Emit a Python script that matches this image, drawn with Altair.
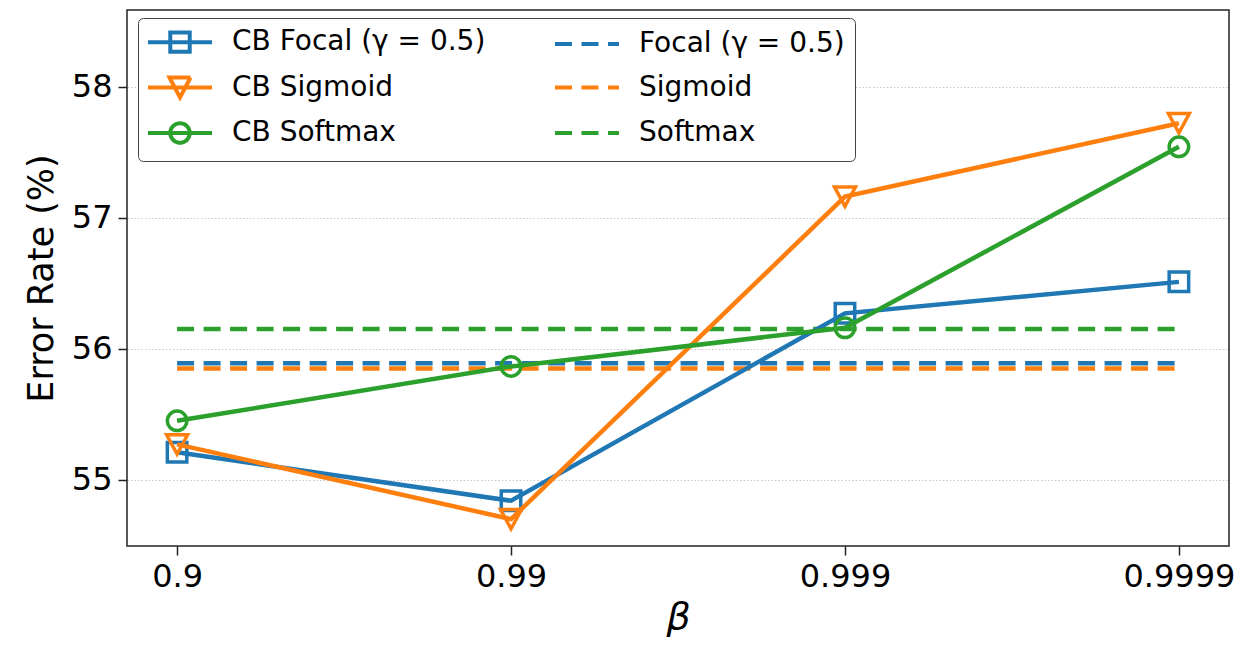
import altair as alt
import pandas as pd

# ---- data ----
betas = ["0.9", "0.99", "0.999", "0.9999"]
cb_names = ["CB Focal (γ = 0.5)", "CB Sigmoid", "CB Softmax"]
base_names = ["Focal (γ = 0.5)", "Sigmoid", "Softmax"]
cb_focal = [55.21, 54.84, 56.27, 56.51]
cb_sigmoid = [55.27, 54.70, 57.16, 57.72]
cb_softmax = [55.45, 55.865, 56.16, 57.54]
base_values = [55.89, 55.85, 56.15]
y_ticks = [55, 56, 57, 58]

cb_series = [cb_focal, cb_sigmoid, cb_softmax]

rows = []
for name, vals in zip(cb_names, cb_series):
    for b, v in zip(betas, vals):
        rows.append({"series": name, "beta": b, "value": v})
df_cb = pd.DataFrame(rows)

rows = []
for name, v in zip(base_names, base_values):
    for b in (betas[0], betas[-1]):
        rows.append({"series": name, "beta": b, "value": v})
df_base = pd.DataFrame(rows)

legend_order = cb_names + base_names
df_legend = pd.DataFrame({"series": legend_order, "beta": betas[0], "value": 56.0})

# ---- styles ----
colors = ["#1f77b4", "#ff7f0e", "#2ca02c"]
DASH = [17, 9.5]
LW = 4.5
FONT = "DejaVu Sans"

x_enc = alt.X("beta:O", sort=betas, scale=alt.Scale(type="point", padding=0.15),
              axis=alt.Axis(title="β", labelAngle=0, titleFontStyle="italic",
                            titleFontSize=38, titlePadding=6, labelPadding=6))
y_enc = alt.Y("value:Q", scale=alt.Scale(domain=[54.495, 58.584], zero=False, nice=False),
              axis=alt.Axis(title="Error Rate (%)", values=y_ticks, grid=True,
                            gridColor="#c8c8c8", gridDash=[1.5, 2], gridWidth=1,
                            titleFontSize=35, titlePadding=12, labelPadding=6))

layers = []
# dashed baselines
for name, col in zip(base_names, colors):
    layers.append(
        alt.Chart(df_base).transform_filter(alt.datum.series == name)
        .mark_line(color=col, strokeDash=DASH, strokeWidth=LW)
        .encode(x=x_enc, y=y_enc)
    )

marker_shapes = ["square", "M-1,-0.92H1L0,0.92Z", "circle"]
marker_sizes = [380, 441, 380]
for name, col, shp, sz in zip(cb_names, colors, marker_shapes, marker_sizes):
    base = alt.Chart(df_cb).transform_filter(alt.datum.series == name)
    layers.append(base.mark_line(color=col, strokeWidth=LW).encode(x=x_enc, y=y_enc))
    layers.append(
        base.mark_point(shape=shp, size=sz, filled=False, color=col, strokeWidth=3.5, opacity=1)
        .encode(x=x_enc, y=y_enc)
    )

# legend-only layer (no data drawn)
L = 2.667
S = 0.81
p_line = f"M-{L},0H{L}"
p_sq = p_line + f"M-{S},-{S}H{S}V{S}H-{S}Z"
p_tri = p_line + "M-0.875,-0.83H0.875L0,0.83Z"
p_circ = p_line + f"M{S},0A{S},{S},0,1,1,-{S},0A{S},{S},0,1,1,{S},0Z"

leg = alt.Legend(title=None, orient="none", legendX=11, legendY=8, columns=2,
                 columnPadding=60, rowPadding=9.5, labelFontSize=28, labelFont=FONT,
                 labelColor="black", labelOffset=38, symbolOffset=18,
                 symbolSize=576, symbolStrokeWidth=4, symbolFillColor="transparent",
                 padding=10, strokeColor="#444444", fillColor="white", cornerRadius=5,
                 labelLimit=400)

color_scale = alt.Scale(domain=legend_order,
                        range=[colors[0], colors[1], colors[2], colors[0], colors[1], colors[2]])
dash_scale = alt.Scale(domain=legend_order,
                       range=[[1, 0], [1, 0], [1, 0], DASH, DASH, DASH])
shape_scale = alt.Scale(domain=legend_order,
                        range=[p_sq, p_tri, p_circ, p_line, p_line, p_line])

legend_layer = (
    alt.Chart(df_legend).transform_filter("datum.value < 0")
    .mark_point(filled=False, opacity=1, strokeWidth=4, size=576)
    .encode(
        x=x_enc, y=y_enc,
        color=alt.Color("series:N", scale=color_scale, sort=legend_order, legend=leg),
        strokeDash=alt.StrokeDash("series:N", scale=dash_scale, sort=legend_order, legend=leg),
        shape=alt.Shape("series:N", scale=shape_scale, sort=legend_order, legend=leg),
    )
)
layers.append(legend_layer)

chart = (
    alt.layer(*layers)
    .properties(width=1102, height=536,
                autosize=alt.AutoSizeParams(type="none"),
                padding={"left": 119, "top": 2, "right": 14, "bottom": 92})
    .configure_view(stroke="#222222", strokeWidth=1.5)
    .configure_axis(labelFont=FONT, titleFont=FONT, labelFontSize=32, labelColor="black",
                    titleColor="black", titleFontWeight="normal", tickSize=9, tickWidth=1.5,
                    tickColor="#222222", domain=False)
)

chart.save("out.html", embed_options={"renderer": "svg", "actions": False})
